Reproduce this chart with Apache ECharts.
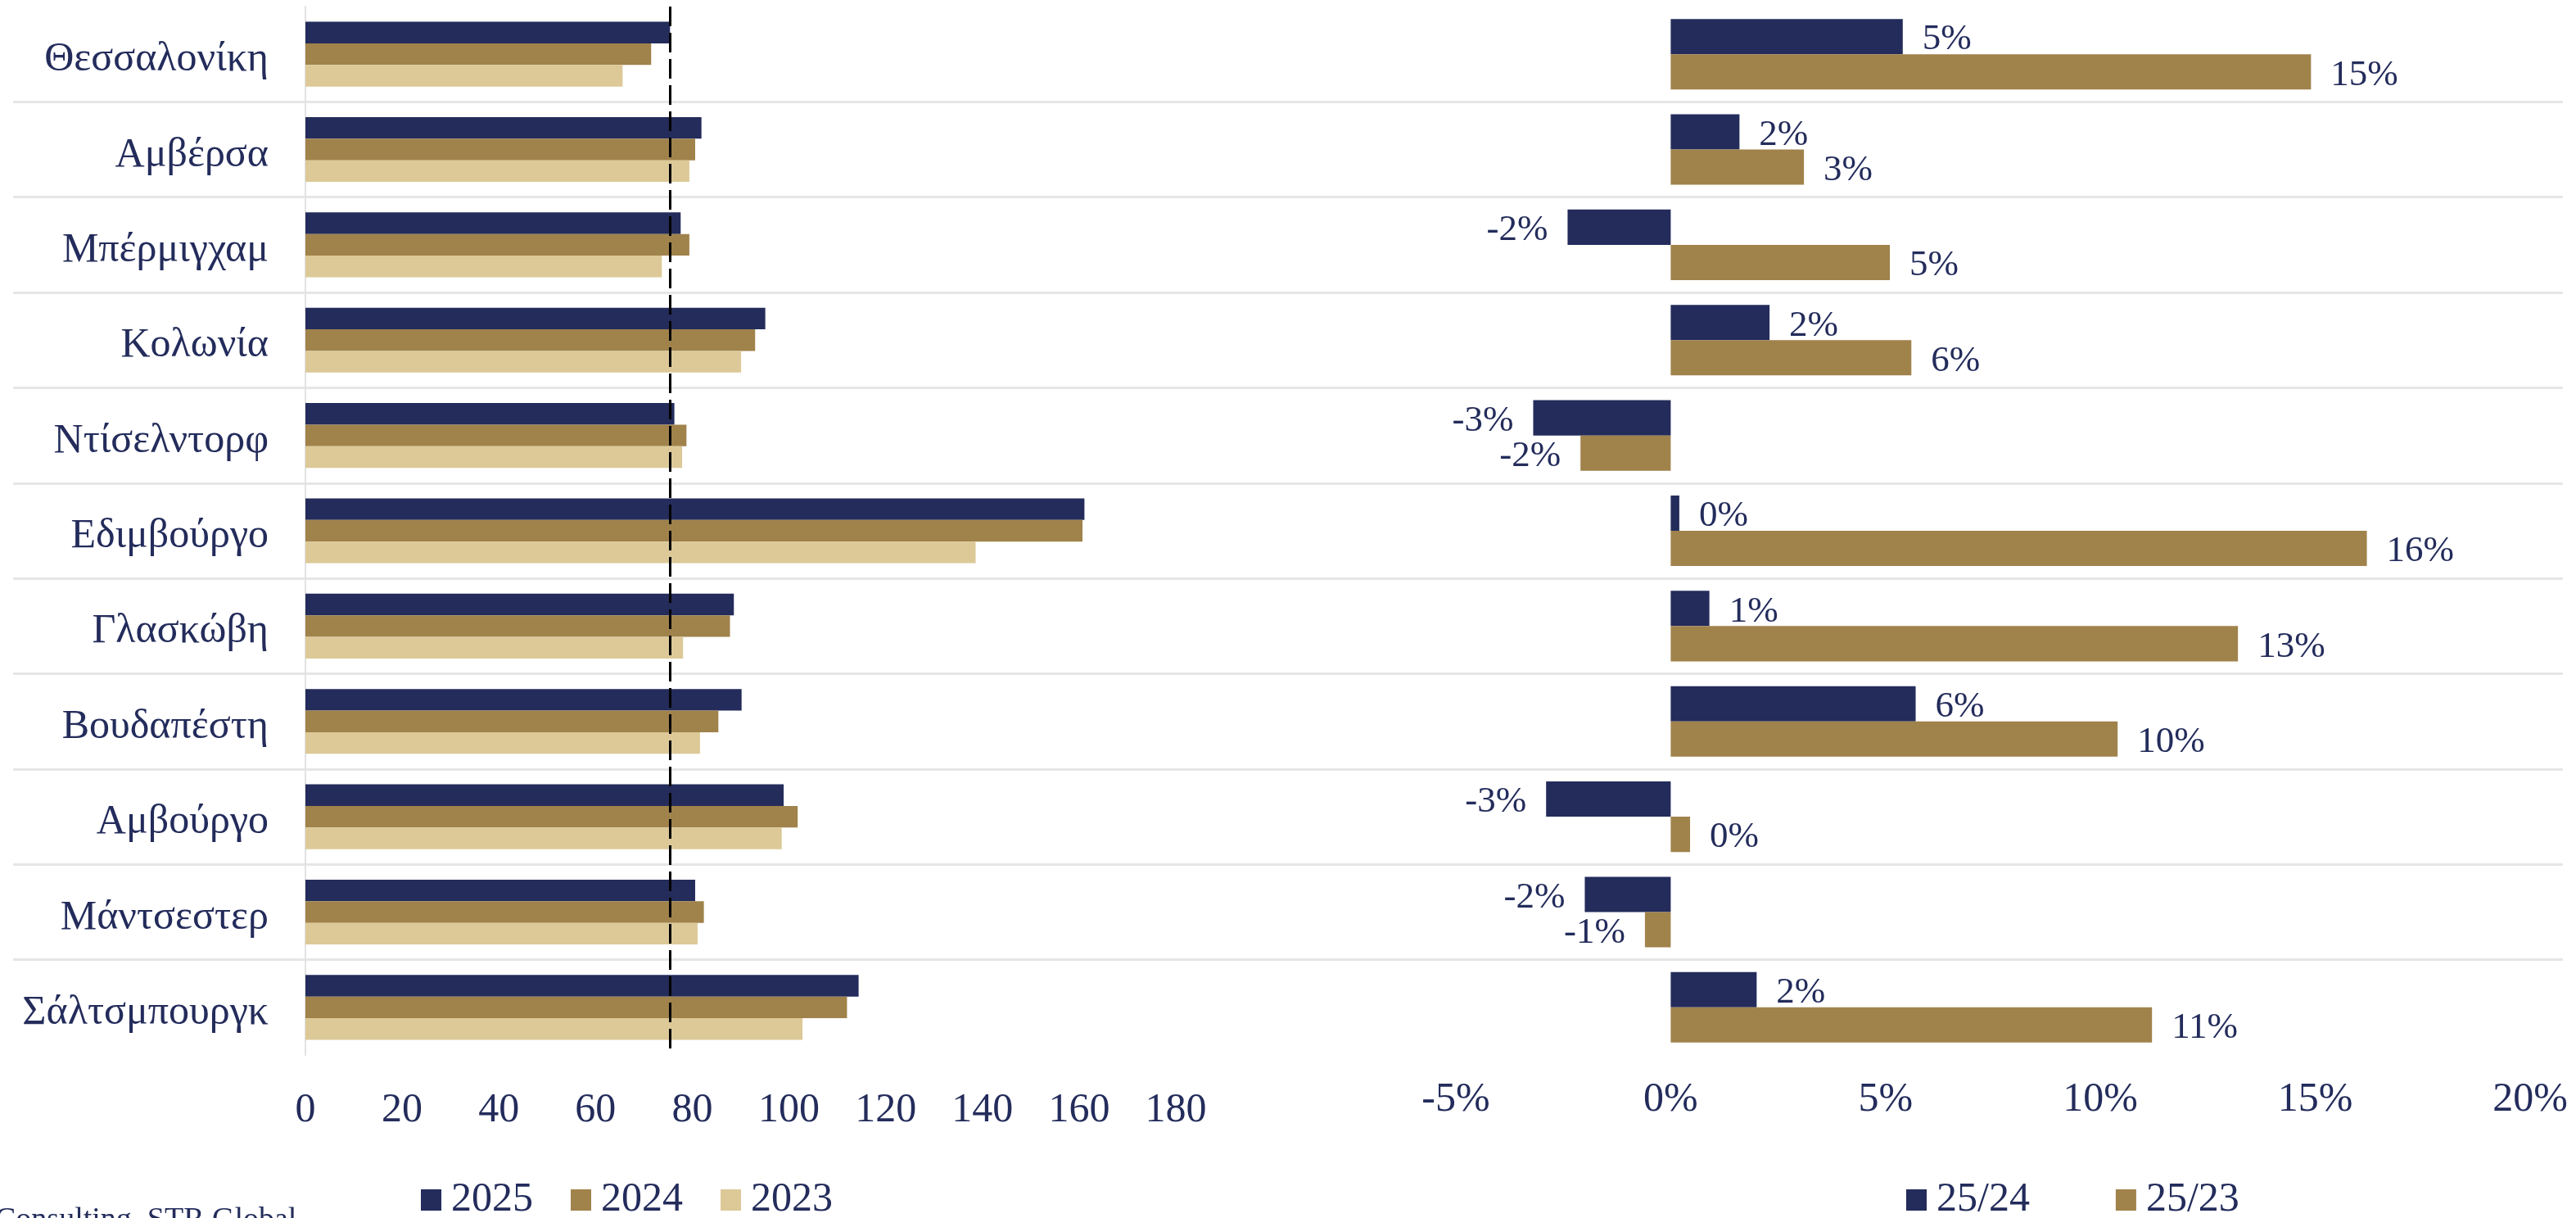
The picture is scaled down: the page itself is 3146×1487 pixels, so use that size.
<!DOCTYPE html>
<html>
<head>
<meta charset="utf-8">
<script src="https://cdn.jsdelivr.net/npm/echarts@6/dist/echarts.min.js"></script>
<style>
  html, body { margin: 0; padding: 0; background: #ffffff; }
  #chart { width: 3146px; height: 1487px; }
</style>
</head>
<body>
<div id="chart"></div>
<script>
// Cities, top to bottom
const categories = ['Θεσσαλονίκη', 'Αμβέρσα', 'Μπέρμιγχαμ', 'Κολωνία', 'Ντίσελντορφ', 'Εδιμβούργο',
  'Γλασκώβη', 'Βουδαπέστη', 'Αμβούργο', 'Μάντσεστερ', 'Σάλτσμπουργκ'];

// Yearly values per city
const values2025 = [75.4, 81.9, 77.6, 95.1, 76.3, 161.1, 88.6, 90.2, 98.9, 80.6, 114.4];
const values2024 = [71.5, 80.6, 79.4, 93.0, 78.8, 160.7, 87.8, 85.4, 101.8, 82.4, 112.0];
const values2023 = [65.6, 79.4, 73.7, 90.1, 77.9, 138.6, 78.1, 81.6, 98.5, 81.1, 102.8];

// Percentage change of 2025 against 2024 and 2023
const change2524 = [5.4, 1.6, -2.4, 2.3, -3.2, 0.2, 0.9, 5.7, -2.9, -2.0, 2.0];
const change2523 = [14.9, 3.1, 5.1, 5.6, -2.1, 16.2, 13.2, 10.4, 0.45, -0.6, 11.2];

// Axis ranges (tick labels follow from these)
const valueAxisRange = { min: 0, max: 180, interval: 20 };
const changeAxisRange = { min: -5, max: 20, interval: 5 };

// Reference line: Thessaloniki's 2025 level
const referenceValue = values2025[0];

const NAVY = '#232C5B';
const GOLD = '#A0824B';
const SAND = '#DCC997';
const FONT = 'Liberation Serif';

const GRID_TOP = 8;
const GRID_HEIGHT = 1280;

const chart = echarts.init(document.getElementById('chart'), null, { renderer: 'canvas' });

function changeData(arr) {
  return arr.map(v => ({ value: v, label: { position: v < 0 ? 'left' : 'right' } }));
}

const changeLabel = {
  show: true,
  distance: 24,
  offset: [0, 4],
  color: NAVY,
  fontFamily: FONT,
  fontSize: 45,
  formatter: p => Math.round(p.value) + '%'
};

chart.setOption({
  backgroundColor: '#ffffff',
  animation: false,
  textStyle: { fontFamily: FONT, color: NAVY },
  grid: [
    { left: 373, top: GRID_TOP, width: 1063, height: GRID_HEIGHT },
    { left: 1778, top: GRID_TOP, width: 1312, height: GRID_HEIGHT },
    // full-width band used only for the row separators
    { left: 16, top: GRID_TOP, width: 3114, height: GRID_HEIGHT, z: 0 }
  ],
  xAxis: [
    {
      gridIndex: 0, type: 'value',
      min: valueAxisRange.min, max: valueAxisRange.max, interval: valueAxisRange.interval,
      axisLine: { show: false }, axisTick: { show: false }, splitLine: { show: false },
      axisLabel: { color: NAVY, fontFamily: FONT, fontSize: 50, lineHeight: 50, margin: 43 }
    },
    {
      gridIndex: 1, type: 'value',
      min: changeAxisRange.min, max: changeAxisRange.max, interval: changeAxisRange.interval,
      axisLine: { show: false }, axisTick: { show: false }, splitLine: { show: false },
      axisLabel: { color: NAVY, fontFamily: FONT, fontSize: 50, lineHeight: 50, margin: 30,
        formatter: v => v + '%' }
    },
    {
      gridIndex: 2, type: 'value', min: 0, max: 1, show: false
    }
  ],
  yAxis: [
    {
      gridIndex: 0, type: 'category', data: categories, inverse: true,
      axisLine: { show: true, lineStyle: { color: '#e2e2e2', width: 2 } },
      axisTick: { show: false },
      axisLabel: {
        margin: 45,
        formatter: v => '{city|' + v + '}',
        rich: {
          city: { color: NAVY, fontFamily: FONT, fontSize: 50, lineHeight: 50, padding: [14, 0, 0, 0] }
        }
      }
    },
    {
      gridIndex: 1, type: 'category', data: categories, inverse: true,
      axisLine: { show: false }, axisTick: { show: false }, axisLabel: { show: false }
    },
    {
      gridIndex: 2, type: 'category', data: categories, inverse: true,
      axisLine: { show: false }, axisTick: { show: false }, axisLabel: { show: false },
      splitLine: { show: true, showMinLine: false, showMaxLine: false,
        lineStyle: { color: '#e6e6e6', width: 3 } }
    }
  ],
  legend: [
    {
      data: ['2025', '2024', '2023'],
      left: 514, top: 1440, padding: 0,
      icon: 'rect', itemWidth: 25, itemHeight: 26, itemGap: 46,
      textStyle: { color: NAVY, fontFamily: FONT, fontSize: 50, padding: [0, 0, 0, 7] }
    },
    {
      data: ['25/24', '25/23'],
      left: 2328, top: 1440, padding: 0,
      icon: 'rect', itemWidth: 25, itemHeight: 26, itemGap: 105,
      textStyle: { color: NAVY, fontFamily: FONT, fontSize: 50, padding: [0, 0, 0, 7] }
    }
  ],
  graphic: [
    {
      type: 'text', x: -6, y: 1490,
      style: { text: 'Consulting, STR Global', fill: NAVY, font: '38px "Liberation Serif"', verticalAlign: 'middle' }
    }
  ],
  series: [
    {
      name: '2025', type: 'bar', xAxisIndex: 0, yAxisIndex: 0,
      data: values2025, itemStyle: { color: NAVY },
      barGap: '0%', barCategoryGap: '32%',
      markLine: {
        silent: true, symbol: ['none', 'none'],
        label: { show: false },
        lineStyle: { color: '#000000', width: 3, type: [24, 8] },
        data: [{ xAxis: referenceValue }]
      }
    },
    {
      name: '2024', type: 'bar', xAxisIndex: 0, yAxisIndex: 0,
      data: values2024, itemStyle: { color: GOLD },
      barGap: '0%', barCategoryGap: '32%'
    },
    {
      name: '2023', type: 'bar', xAxisIndex: 0, yAxisIndex: 0,
      data: values2023, itemStyle: { color: SAND },
      barGap: '0%', barCategoryGap: '32%'
    },
    {
      name: '25/24', type: 'bar', xAxisIndex: 1, yAxisIndex: 1,
      data: changeData(change2524), itemStyle: { color: NAVY },
      barGap: '0%', barCategoryGap: '26%',
      label: changeLabel
    },
    {
      name: '25/23', type: 'bar', xAxisIndex: 1, yAxisIndex: 1,
      data: changeData(change2523), itemStyle: { color: GOLD },
      barGap: '0%', barCategoryGap: '26%',
      label: changeLabel
    }
  ]
});
</script>
</body>
</html>
